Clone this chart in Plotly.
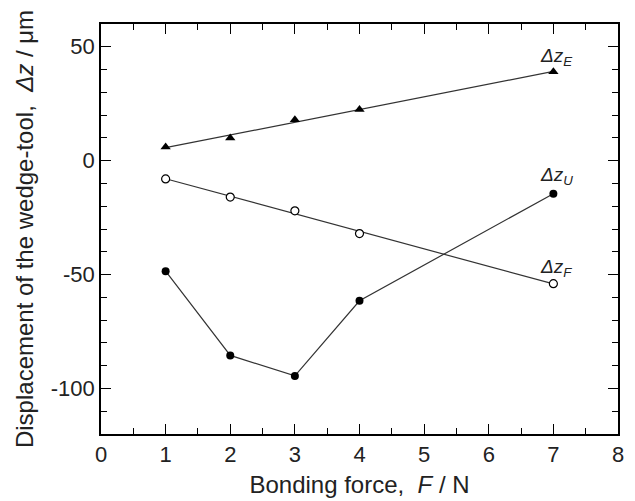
import numpy as np
import plotly.graph_objects as go

force = [1, 2, 3, 4, 7]
dz_E = [6.0, 10.0, 18.0, 22.5, 39.0]
dz_F = [-8.0, -16.0, -22.0, -32.0, -54.0]
dz_U = [-48.5, -85.5, -94.5, -61.5, -14.5]

x_ticks = [0, 1, 2, 3, 4, 5, 6, 7, 8]
y_ticks = [-100, -50, 0, 50]

FONT = "Liberation Sans, Arial, sans-serif"
LINE = "#333333"

fig = go.Figure()

# linear fits for E and F
for ys in (dz_E, dz_F):
    k, b = np.polyfit(force, ys, 1)
    xf = [min(force), max(force)]
    fig.add_trace(go.Scatter(x=xf, y=[k * v + b for v in xf], mode="lines",
                             line=dict(color=LINE, width=1.2), showlegend=False, hoverinfo="skip"))

fig.add_trace(go.Scatter(x=force, y=dz_U, mode="lines+markers",
                         line=dict(color=LINE, width=1.2),
                         marker=dict(symbol="circle", size=8, color="black"), showlegend=False))
fig.add_trace(go.Scatter(x=force, y=dz_E, mode="markers",
                         marker=dict(symbol="triangle-up", size=9, color="black"), showlegend=False))
fig.add_trace(go.Scatter(x=force, y=dz_F, mode="markers",
                         marker=dict(symbol="circle", size=8, color="white",
                                     line=dict(color="black", width=1.2)), showlegend=False))

labels = [("E", dz_E[-1], 1), ("U", dz_U[-1], 4), ("F", dz_F[-1], 2)]
for sub, yv, ys in labels:
    fig.add_annotation(x=force[-1], y=yv, text=f"<i>Δz</i><sub><i>{sub}</i></sub>",
                       showarrow=False, xanchor="center", yanchor="bottom", yshift=ys, xshift=3,
                       font=dict(family=FONT, size=19, color="#222"))

axis_common = dict(showline=True, linecolor="black", linewidth=1.5, mirror="allticks",
                   ticks="inside", ticklen=10, tickwidth=1.3, tickcolor="black",
                   showgrid=False, zeroline=False, automargin=False,
                   tickfont=dict(family=FONT, size=22, color="#222"))

fig.update_xaxes(range=[0, 8], tickvals=x_ticks, ticktext=[str(v) for v in x_ticks],
                 minor=dict(ticks="inside", ticklen=6, tickwidth=1.3, tickcolor="black", dtick=0.5),
                 title=dict(text="Bonding force,  <i>F</i> / N", font=dict(family=FONT, size=24, color="#222"),
                            standoff=10),
                 **axis_common)
fig.update_yaxes(range=[-120, 60], tickvals=y_ticks, ticktext=[str(v) for v in y_ticks],
                 minor=dict(ticks="inside", ticklen=6, tickwidth=1.3, tickcolor="black", dtick=10, tick0=0),
                 title=dict(text="Displacement of the wedge-tool,  <i>Δz</i> / μm",
                            font=dict(family=FONT, size=24, color="#222"), standoff=10),
                 **axis_common)

# page body has an 8px default margin; size the figure to fit the 635x501 window
fig.update_layout(width=627, height=493, margin=dict(l=93, r=17, t=16, b=67),
                  plot_bgcolor="white", paper_bgcolor="white", font=dict(family=FONT))

fig.write_html("out.html")
